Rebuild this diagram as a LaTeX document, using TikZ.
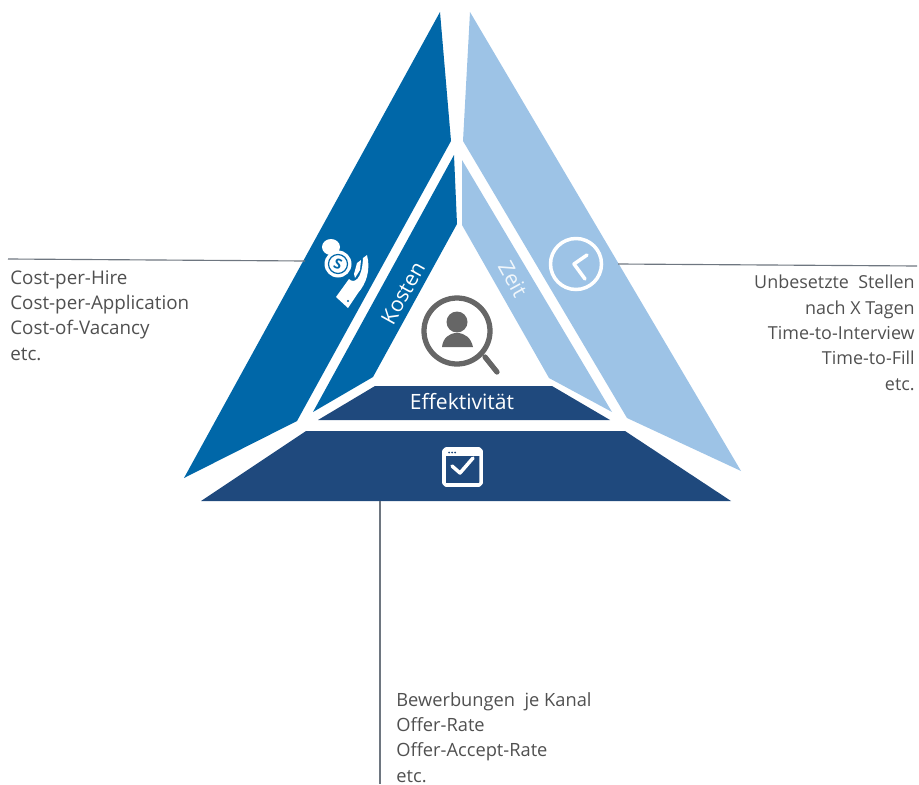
\documentclass[tikz,border=0pt]{standalone}
\usepackage{fontspec}
\setmainfont{Open Sans}
\definecolor{kosten}{HTML}{0067A8}
\definecolor{zeit}{HTML}{9DC3E6}
\definecolor{effekt}{HTML}{1F497D}
\definecolor{lupe}{HTML}{666666}
\definecolor{schrift}{HTML}{505050}
\definecolor{linie}{HTML}{6E7680}
\tikzstyle{liste} = [text=schrift, font=\fontsize{10.4}{14.4}\selectfont, inner sep=0pt]
\tikzstyle{titel} = [text=white, font=\fontsize{12}{12}\selectfont, inner sep=0pt]
\tikzstyle{leader} = [draw=linie, line width=0.65pt]
\tikzstyle{icon} = [draw=white, line width=2pt, line cap=round, line join=round]
\begin{document}
\begin{tikzpicture}[x=0.02cm, y=-0.02cm]
\useasboundingbox (0,0) rectangle (919,784);
% Segments
\fill[kosten] (440,12) -- (451,141) -- (297,421) -- (184,478) -- cycle;
\fill[kosten] (454,155) -- (457,224) -- (373,377) -- (313,412) -- cycle;
\fill[zeit] (470,12) -- (463,141) -- (627,418) -- (741,471) -- cycle;
\fill[zeit] (462,160) -- (462,225) -- (549,378) -- (612,412) -- cycle;
\fill[effekt] (375,386) -- (552,386) -- (610,420) -- (318,420) -- cycle;
\fill[effekt] (306,431) -- (625,431) -- (731,501) -- (201,501) -- cycle;
% Labels
\node [titel, rotate=61] (Kosten) at (403,293) {Kosten};
\node [titel, rotate=-61, text=white!85!zeit] (Zeit) at (513,279) {Zeit};
\node [titel] (Effekt) at (462,402) {Effektivität};
\node [liste, font=\fontsize{10.7}{14.4}\selectfont, anchor=north west, align=left] (KostenListe) at (10,270) {Cost-per-Hire\\Cost-per-Application\\Cost-of-Vacancy\\etc.};
\node [liste, font=\fontsize{10.2}{14.4}\selectfont, anchor=north east, align=right] (ZeitListe) at (915,275) {Unbesetzte\ \ Stellen\\nach X Tagen\\Time-to-Interview\\Time-to-Fill\\etc.};
\node [liste, anchor=north west, align=left] (EffektListe) at (396,692) {Bewerbungen\ \ je Kanal\\Offer-Rate\\Offer-Accept-Rate\\etc.};
% Paths
\coordinate (KostenA) at (8,259);
\coordinate (KostenB) at (305,261);
\coordinate (ZeitA) at (618,264);
\coordinate (ZeitB) at (917,266);
\coordinate (EffektA) at (380,501);
\coordinate (EffektB) at (380,784);
\draw[leader] (KostenA) -- (KostenB);
\draw[leader] (ZeitA) -- (ZeitB);
\draw[leader] (EffektA) -- (EffektB);
% Lupe
\draw[lupe, line width=3pt] (457,331) circle (33);
\draw[lupe, line width=3pt, line cap=round] (485,357) -- (497,372);
\fill[lupe] (457,322) circle (10.5);
\fill[lupe] (442,347) .. controls (443,338) and (449,333) .. (457,333) .. controls (465,333) and (471,338) .. (473,347) -- cycle;
% Uhr
\draw[icon] (576,264) circle (25.5);
\draw[icon] (587,255) -- (574,264) -- (585,279);
% Haken
\draw[icon, fill=effekt, rounded corners=1pt] (444,449) rectangle (481,485);
\fill[white] (444,449) rectangle (481,456);
\foreach \dotx in {449,452,455} \fill[effekt] (\dotx,452.5) circle (1);
\draw[icon] (452,466) -- (460,473) -- (473,458);
% Geldsack
\fill[white] (331,247) ellipse (9 and 8);
\fill[white] (338,264) circle (13.5);
\draw[kosten, line width=0.7pt] (338,264) circle (9.5);
\node [text=kosten, font=\bfseries\fontsize{8}{8}\selectfont, inner sep=0pt, rotate=-20] (Dollar) at (338,264) {S};
\fill[white] (336,297) -- (349,279) .. controls (354,284) and (362,280) .. (363,258) -- (367,255) .. controls (371,270) and (366,284) .. (358,293) -- (348,308) -- cycle;
\fill[white] (354,274) -- (357,263) -- (361,260) -- (360,270) -- (355,278) -- cycle;
\fill[kosten] (348,301) circle (1.2);
\end{tikzpicture}
\end{document}
